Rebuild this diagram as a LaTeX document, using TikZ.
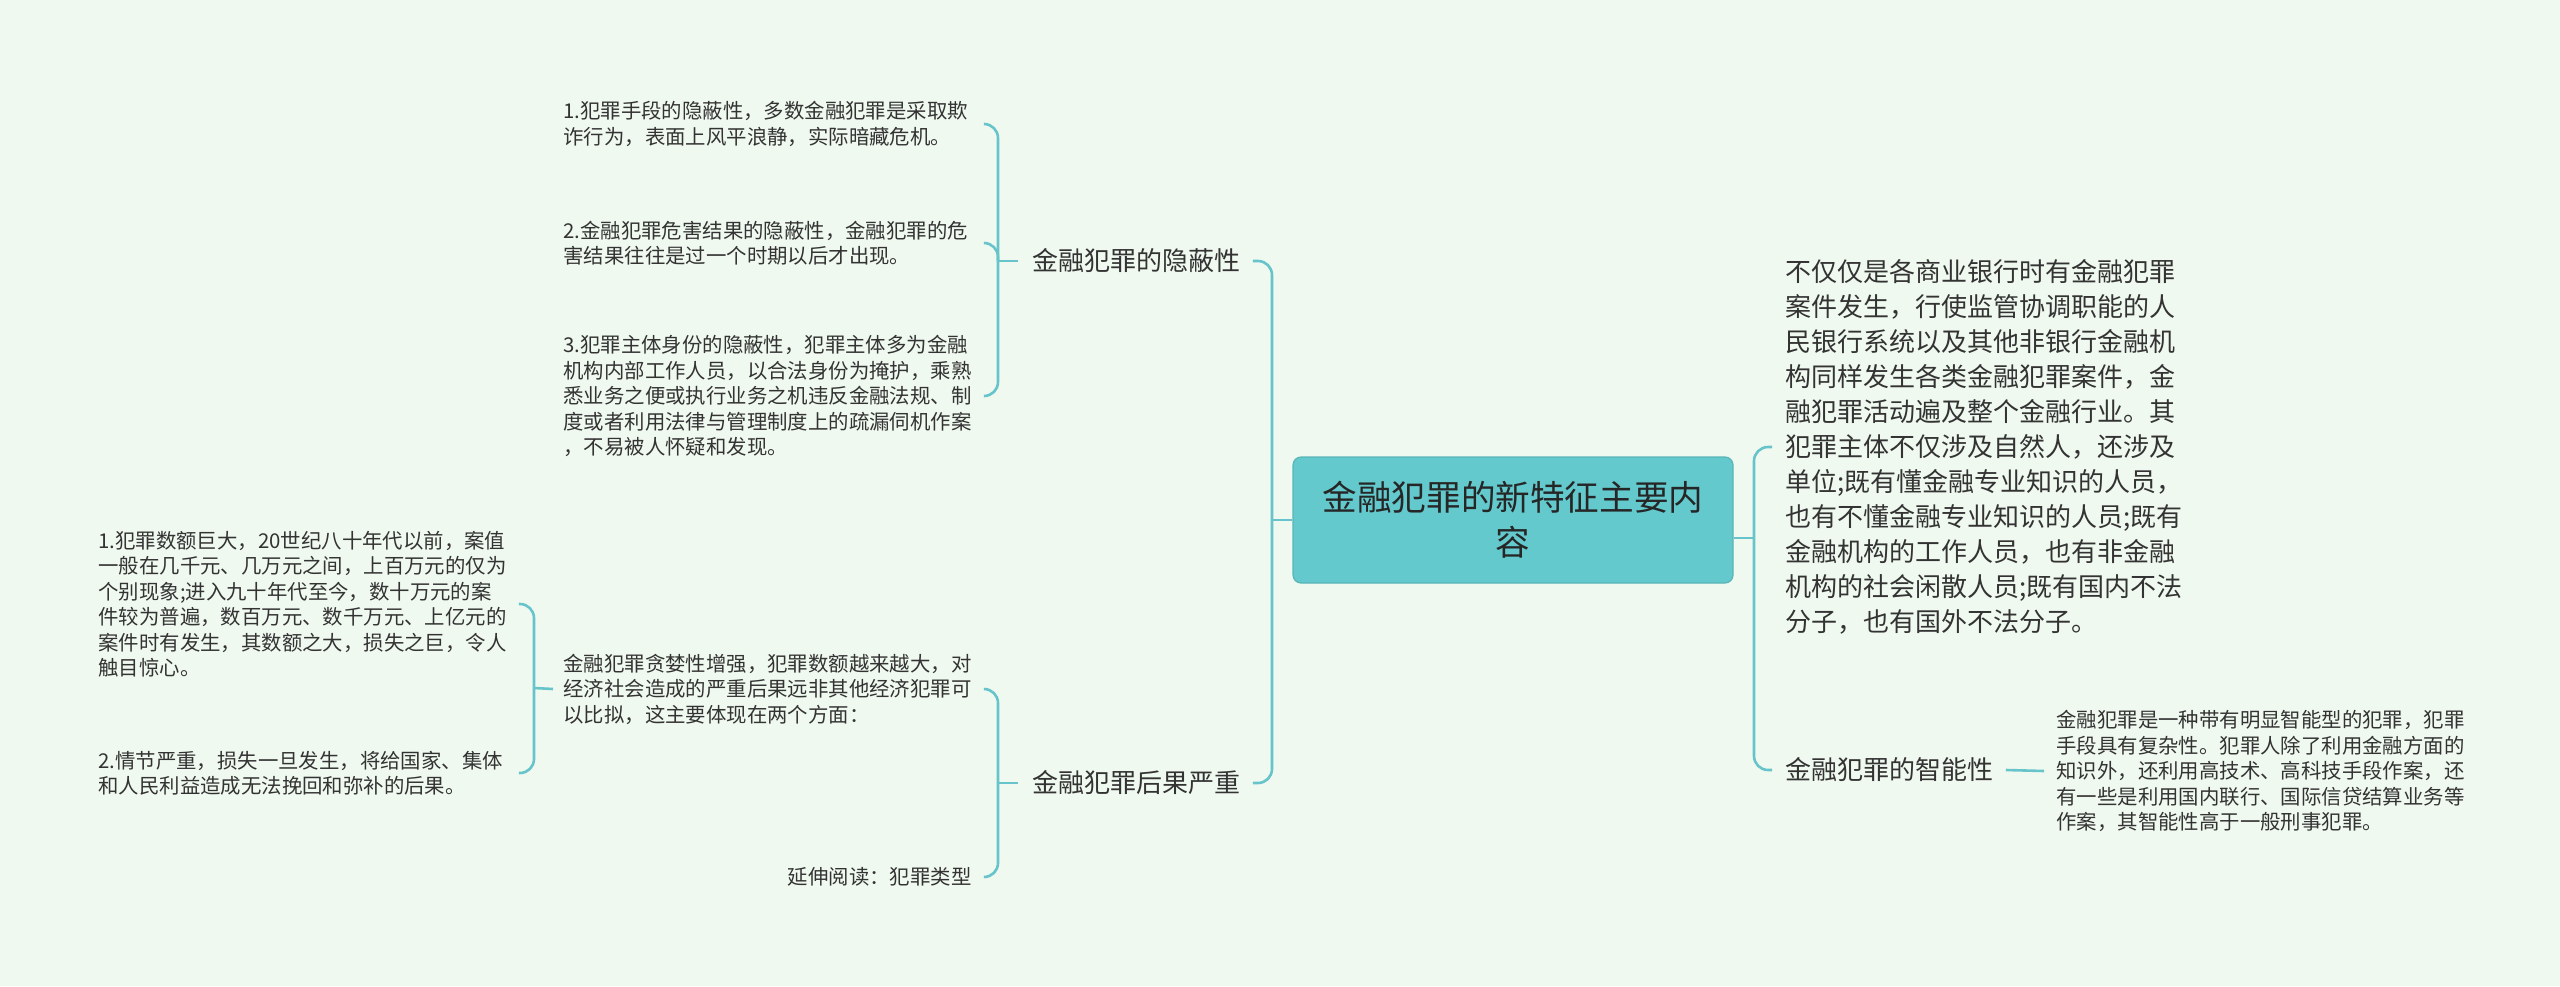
\documentclass[tikz,border=0pt]{standalone}
\usepackage{fontspec}
\newfontfamily\cjk{Noto Sans CJK SC}
\definecolor{bgc}{RGB}{240,249,240}
\definecolor{linec}{RGB}{102,196,202}
\definecolor{rootc}{RGB}{99,201,205}
\definecolor{txtc}{RGB}{51,51,51}
\begin{document}
\begin{tikzpicture}[x=0.5pt, y=-0.5pt, font=\cjk, text=txtc,
		link/.style={draw=linec, line width=1.3pt, rounded corners=7pt},
		rootbox/.style={fill=rootc, draw=rootc!90!black, line width=0.6pt, rounded corners=4pt,
			minimum width=220pt, minimum height=63pt, align=center, text=black!85,
			font=\cjk\fontsize{17.3pt}{22.5pt}\selectfont},
		topic/.style={inner sep=0pt, align=left, font=\cjk\fontsize{13pt}{17.5pt}\selectfont},
		leaf/.style={inner sep=0pt, align=left, text width=204pt, font=\cjk\fontsize{10.2pt}{12.75pt}\selectfont}]
	% 背景与画布大小
	\fill[bgc] (0,0) rectangle (2560,986);
	\useasboundingbox (0,0) rectangle (2560,986);
	
	% 各组连线的竖线位置
	\coordinate (sL) at (1272,520);
	\coordinate (sR) at (1754,538);
	\coordinate (sH) at (998,261);
	\coordinate (sC) at (998,783);
	\coordinate (sE) at (534,688);
	
	% 中心主题
	\node[rootbox] (root) at (1513,520) {金融犯罪的新特征主要内\\容};
	
	% 左侧分支
	\node[topic, anchor=west] (hide) at (1032,261) {金融犯罪的隐蔽性};
	\node[topic, anchor=west] (cons) at (1032,783) {金融犯罪后果严重};
	
	\node[leaf, anchor=west] (h1) at (563,124) {1.犯罪手段的隐蔽性，多数金融犯罪是采取欺\\诈行为，表面上风平浪静，实际暗藏危机。};
	\node[leaf, anchor=west] (h2) at (563,243) {2.金融犯罪危害结果的隐蔽性，金融犯罪的危\\害结果往往是过一个时期以后才出现。};
	\node[leaf, anchor=west] (h3) at (563,396) {3.犯罪主体身份的隐蔽性，犯罪主体多为金融\\机构内部工作人员，以合法身份为掩护，乘熟\\悉业务之便或执行业务之机违反金融法规、制\\度或者利用法律与管理制度上的疏漏伺机作案\\，不易被人怀疑和发现。};
	
	\node[leaf, anchor=west] (c1) at (563,689) {金融犯罪贪婪性增强，犯罪数额越来越大，对\\经济社会造成的严重后果远非其他经济犯罪可\\以比拟，这主要体现在两个方面：};
	\node[inner sep=0pt, anchor=east, font=\cjk\fontsize{10.2pt}{12.75pt}\selectfont] (c2) at (c1.east |- 0,877) {延伸阅读：犯罪类型};
	
	\node[leaf, anchor=west] (e1) at (98,604) {1.犯罪数额巨大，20世纪八十年代以前，案值\\一般在几千元、几万元之间，上百万元的仅为\\个别现象;进入九十年代至今，数十万元的案\\件较为普遍，数百万元、数千万元、上亿元的\\案件时有发生，其数额之大，损失之巨，令人\\触目惊心。};
	\node[leaf, anchor=west] (e2) at (98,773) {2.情节严重，损失一旦发生，将给国家、集体\\和人民利益造成无法挽回和弥补的后果。};
	
	% 右侧分支
	\node[topic, anchor=west] (wide) at (1785,447) {不仅仅是各商业银行时有金融犯罪\\案件发生，行使监管协调职能的人\\民银行系统以及其他非银行金融机\\构同样发生各类金融犯罪案件，金\\融犯罪活动遍及整个金融行业。其\\犯罪主体不仅涉及自然人，还涉及\\单位;既有懂金融专业知识的人员，\\也有不懂金融专业知识的人员;既有\\金融机构的工作人员，也有非金融\\机构的社会闲散人员;既有国内不法\\分子，也有国外不法分子。};
	\node[topic, anchor=west] (smart) at (1785,770) {金融犯罪的智能性};
	\node[leaf, anchor=west] (s1) at (2056,771) {金融犯罪是一种带有明显智能型的犯罪，犯罪\\手段具有复杂性。犯罪人除了利用金融方面的\\知识外，还利用高技术、高科技手段作案，还\\有一些是利用国内联行、国际信贷结算业务等\\作案，其智能性高于一般刑事犯罪。};
	
	% 中心主题的连线
	\draw[link] ([xshift=6pt]hide.east) -| (sL);
	\draw[link] ([xshift=6pt]cons.east) -| (sL);
	\draw[link] (sL) -- (root.west);
	\draw[link] (root.east |- sR) -- (sR);
	\draw[link] ([xshift=-6.5pt]wide.west) -| (sR);
	\draw[link] ([xshift=-6.5pt]smart.west) -| (sR);
	
	% 隐蔽性
	\foreach \n in {h1,h2,h3}
		\draw[link] ([xshift=6pt]\n.east) -| (sH);
	\draw[link] (sH) -- ([xshift=-7pt]hide.west);
	
	% 后果严重
	\draw[link] ([xshift=6pt]c1.east) -| (sC);
	\draw[link] ([xshift=6pt]c2.east) -| (sC);
	\draw[link] (sC) -- ([xshift=-7pt]cons.west);
	
	\draw[link] ([xshift=6pt]e1.east) -| (sE);
	\draw[link] ([xshift=6pt]e2.east) -| (sE);
	\draw[link] (sE) -- ([xshift=-5pt]c1.west);
	
	% 智能性
	\draw[link] ([xshift=6pt]smart.east) -- ([xshift=-6pt]s1.west);
\end{tikzpicture}
\end{document}
